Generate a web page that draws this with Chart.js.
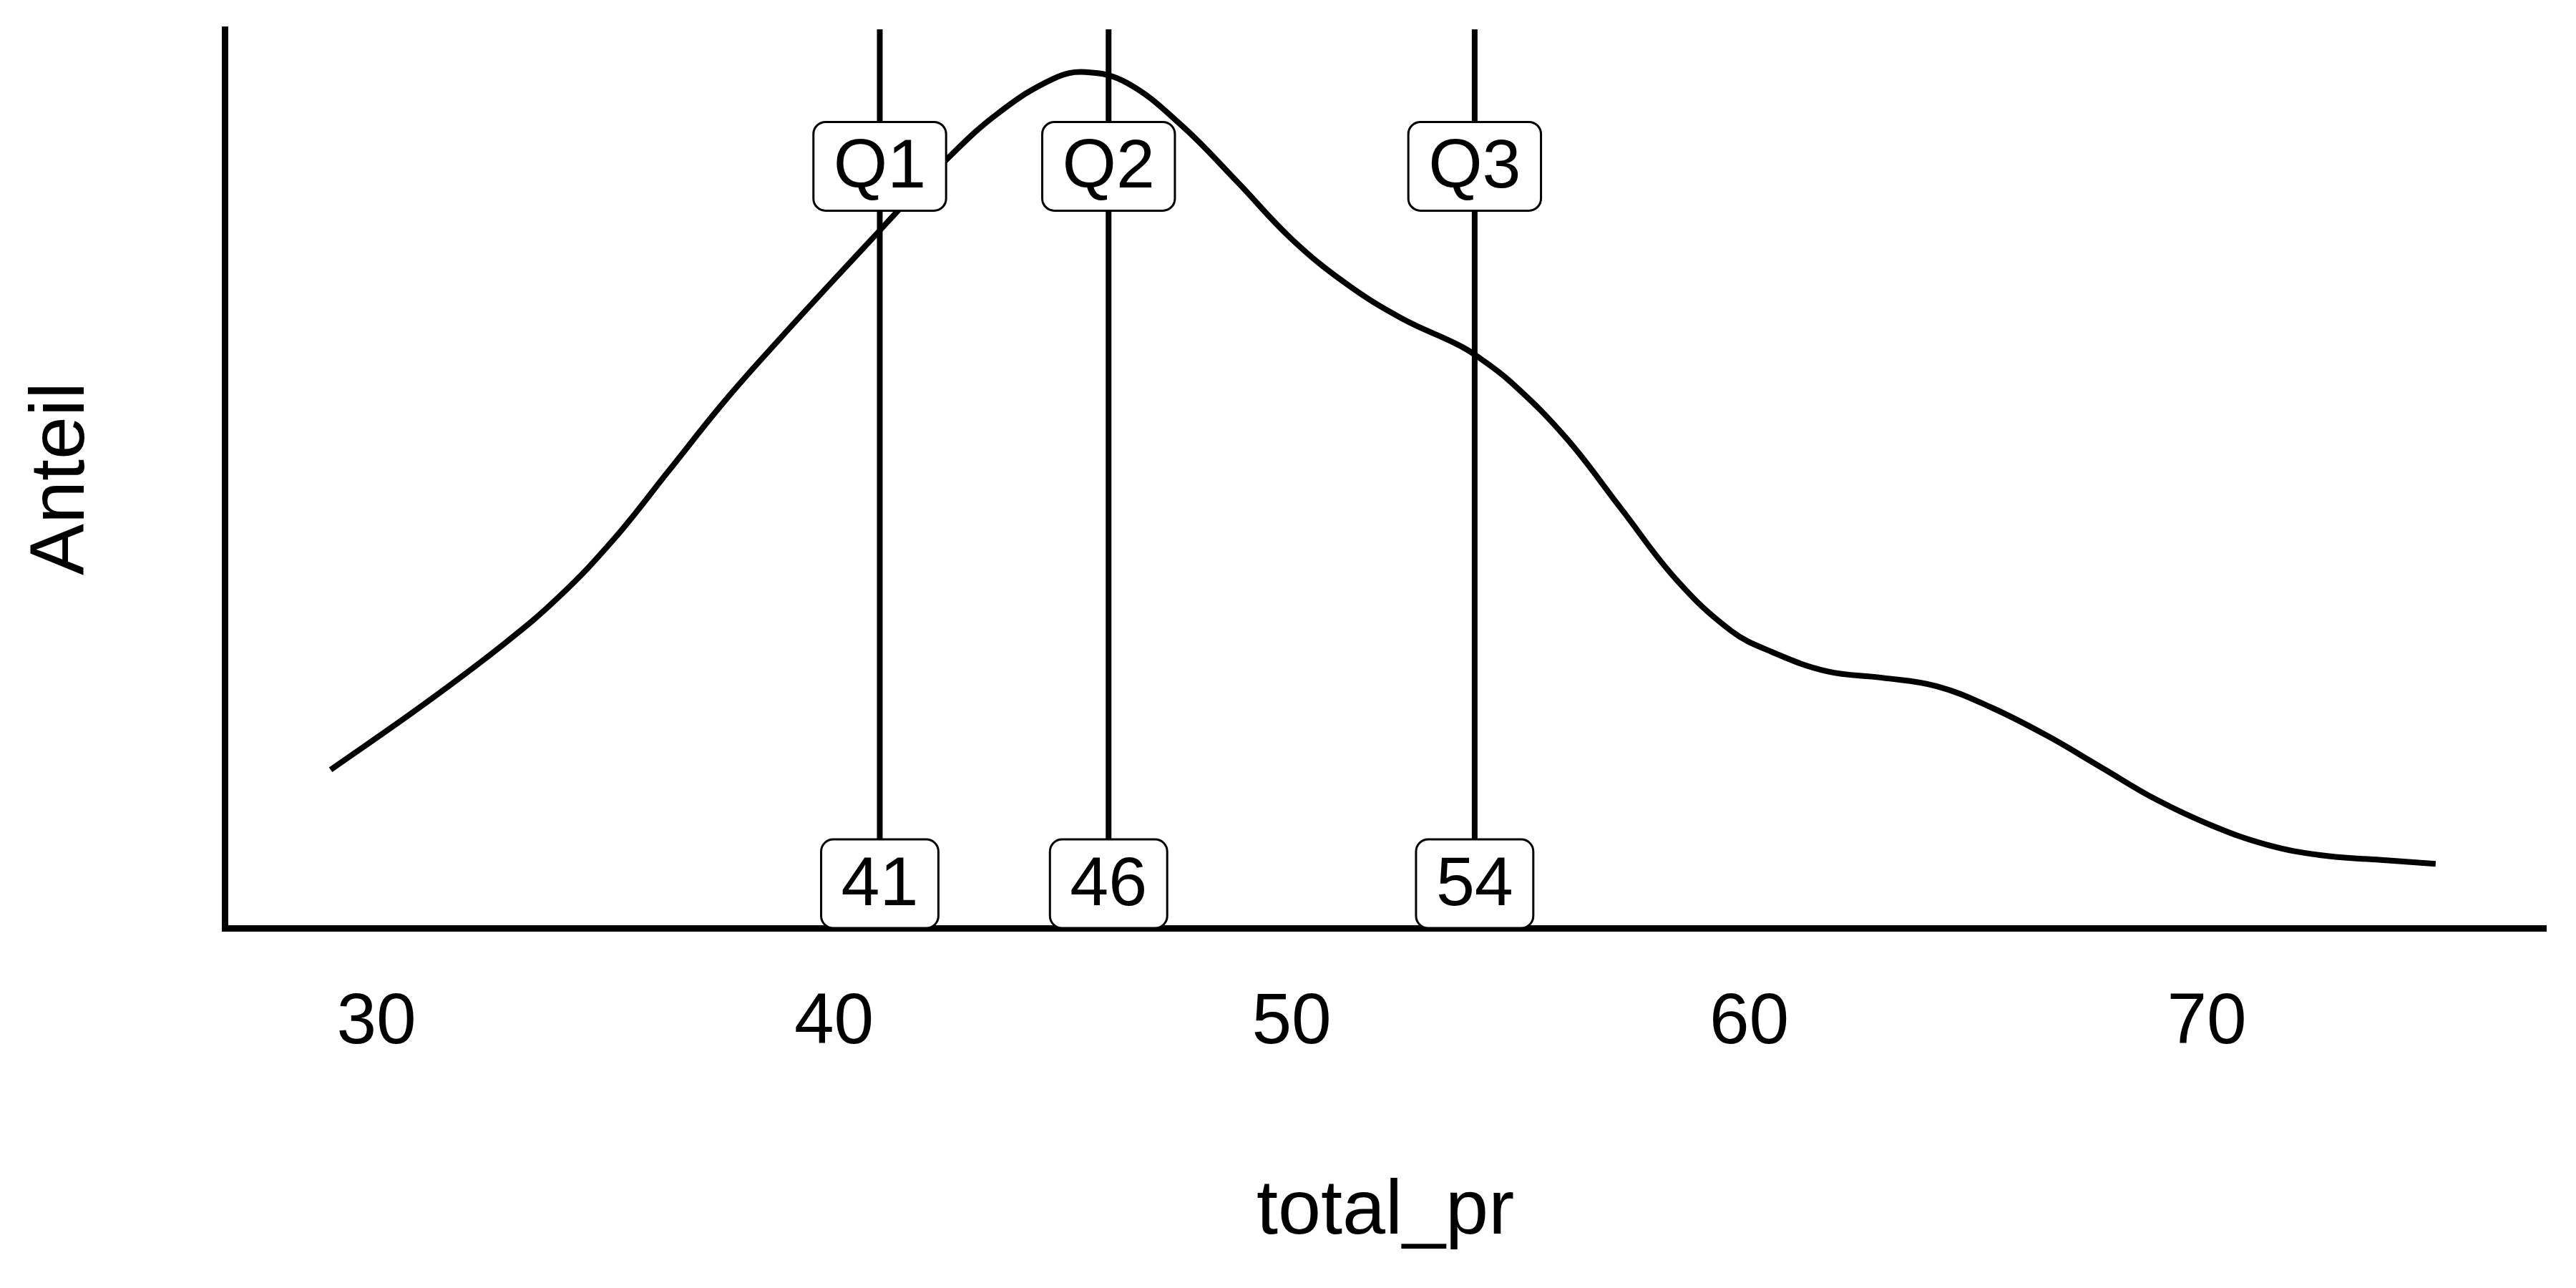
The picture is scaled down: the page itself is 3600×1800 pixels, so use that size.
<!DOCTYPE html>
<html>
<head>
<meta charset="utf-8">
<script src="https://cdn.jsdelivr.net/npm/chart.js@4.4.1/dist/chart.umd.min.js"></script>
<style>
  body { margin: 0; background: #fff; }
  #wrap { width: 3600px; height: 1800px; }
</style>
</head>
<body>
<div id="wrap"><canvas id="densityChart"></canvas></div>
<script>
// density of total_pr
const densityX = [29.0, 31.0, 32.8, 34.0, 35.2, 36.4, 37.6, 38.8, 40.0, 41.0, 41.3, 42.5, 43.6, 44.8, 45.5,
    46.4, 47.6, 48.8, 50.0, 51.2, 52.4, 53.6, 54.0, 54.8, 56.0, 57.2, 58.4, 59.6, 60.5, 61.7,
    62.9, 64.1, 65.3, 66.5, 67.7, 68.9, 70.1, 71.3, 72.5, 73.7, 75.0];
const densityY = [0.0074, 0.0104, 0.0133, 0.0155, 0.0182, 0.0214, 0.0246, 0.0275, 0.0303, 0.0326, 0.0333, 0.0360, 0.0381, 0.0397, 0.0400,
    0.0395, 0.0375, 0.0349, 0.0322, 0.0301, 0.0285, 0.0273, 0.0268, 0.0255, 0.0229, 0.0196, 0.0163, 0.0139, 0.0129, 0.0120,
    0.0117, 0.0113, 0.0103, 0.0090, 0.0075, 0.0060, 0.0048, 0.0039, 0.0034, 0.0032, 0.0030];

const quartileNames = ["Q1", "Q2", "Q3"];
const quartileValues = [41, 46, 54];
const xTicks = [30, 40, 50, 60, 70];

const X_MIN = 26.685, X_MAX = 77.41;
const Y_MAX = 0.042;
const NAME_LABEL_Y = 0.0356;

const FONT = '"Liberation Sans", Arial, Helvetica, sans-serif';

function drawLabel(ctx, text, cx, anchorY, anchor) {
    const w = ctx.measureText(text).width + 56;
    const h = 124;
    const top = anchor === "center" ? anchorY - h / 2 : anchorY - h;
    ctx.beginPath();
    ctx.roundRect(cx - w / 2, top, w, h, 17);
    ctx.fillStyle = "#fff";
    ctx.fill();
    ctx.lineWidth = 3;
    ctx.strokeStyle = "#000";
    ctx.stroke();
    ctx.fillStyle = "#000";
    ctx.fillText(text, cx, top + h / 2 + 3);
}

const quartileLabels = {
    id: "quartileLabels",
    afterDatasetsDraw(chart) {
        const { ctx } = chart;
        const x = chart.scales.x, y = chart.scales.y;
        ctx.save();
        ctx.font = "97px " + FONT;
        ctx.textAlign = "center";
        ctx.textBaseline = "middle";
        quartileValues.forEach((v, i) => {
            const px = x.getPixelForValue(v);
            drawLabel(ctx, quartileNames[i], px, y.getPixelForValue(NAME_LABEL_Y), "center");
            drawLabel(ctx, String(v), px, y.getPixelForValue(0), "bottom");
        });
        ctx.restore();
    }
};

const curve = densityX.map((v, i) => ({ x: v, y: densityY[i] }));
const datasets = [{
    data: curve,
    borderColor: "#000",
    borderWidth: 8,
    pointRadius: 0,
    tension: 0.4,
    order: 2
}];
quartileValues.forEach(v => {
    datasets.push({
        data: [{ x: v, y: 0 }, { x: v, y: Y_MAX }],
        borderColor: "#000",
        borderWidth: 8,
        pointRadius: 0,
        borderCapStyle: "butt",
        order: 1
    });
});

new Chart(document.getElementById("densityChart"), {
    type: "line",
    data: { datasets: datasets },
    plugins: [quartileLabels],
    options: {
        responsive: true,
        maintainAspectRatio: false,
        devicePixelRatio: 1,
        animation: false,
        layout: { padding: { left: 22, top: 41, right: 42, bottom: 41 } },
        plugins: { legend: { display: false }, tooltip: { enabled: false } },
        scales: {
            x: {
                type: "linear",
                min: X_MIN,
                max: X_MAX,
                z: 1,
                afterBuildTicks: s => { s.ticks = xTicks.map(v => ({ value: v })); },
                afterFit: s => { s.height = 462; },
                grid: { display: false, drawTicks: false },
                border: { display: true, color: "#000", width: 9 },
                ticks: {
                    color: "#000",
                    padding: 73,
                    maxRotation: 0,
                    font: { family: FONT, size: 100 }
                },
                title: {
                    display: true,
                    text: "total_pr",
                    color: "#000",
                    padding: 0,
                    font: { family: FONT, size: 108 }
                }
            },
            y: {
                min: 0,
                max: Y_MAX,
                afterFit: s => { s.width = 292; },
                grid: { display: false, drawTicks: false },
                border: { display: true, color: "#000", width: 9 },
                ticks: { display: false },
                title: {
                    display: true,
                    text: "Anteil",
                    color: "#000",
                    padding: 0,
                    font: { family: FONT, size: 108 }
                }
            }
        }
    }
});
</script>
</body>
</html>
